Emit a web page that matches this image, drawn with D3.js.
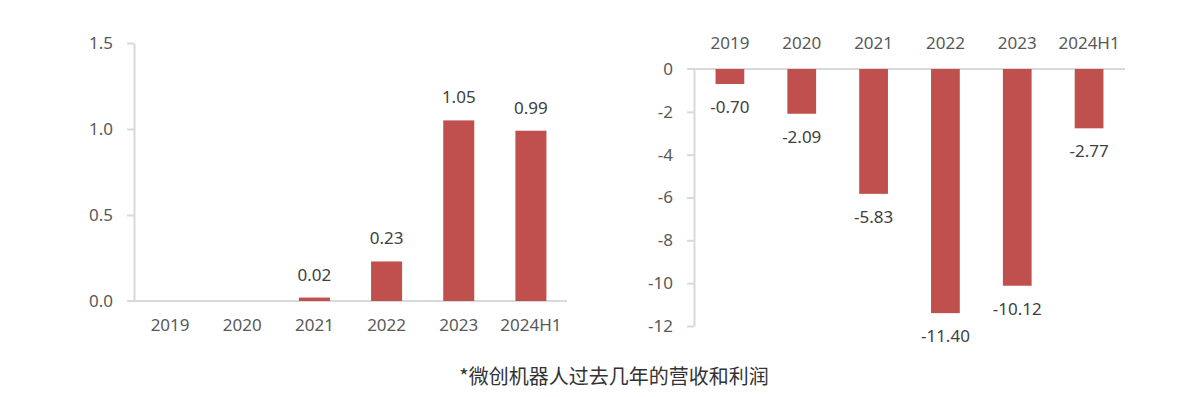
<!DOCTYPE html>
<html lang="zh">

<head>
  <meta charset="UTF-8">
  <title>微创机器人 营收和利润</title>
  <script src="https://cdn.jsdelivr.net/npm/d3@7/dist/d3.min.js"></script>
  <style>
    body { margin: 0; background: #fff; }
    text { font-family: "Noto Sans", "Noto Sans CJK SC", sans-serif; }
  </style>
</head>

<body>
  <svg width="1193" height="397"></svg>
  <script>
    var years = ['2019', '2020', '2021', '2022', '2023', '2024H1']
    var revenue = [0, 0, 0.02, 0.23, 1.05, 0.99]
    var profit = [-0.70, -2.09, -5.83, -11.40, -10.12, -2.77]
    var revTicks = [0, 0.5, 1.0, 1.5]
    var profitTicks = [0, -2, -4, -6, -8, -10, -12]
    var caption = '*微创机器人过去几年的营收和利润'

    var barColor = '#c0504d'
    var axisColor = '#d9d9d9'
    var tickColor = '#595959'
    var labelColor = '#404040'

    // plain hyphen for negatives, like the original
    var fmt2 = d3.formatLocale({ decimal: '.', thousands: ',', grouping: [3], currency: ['', ''], minus: '-' }).format('.2f')

    var svg = d3.select('svg')

    function styleAxis(g) {
      g.select('.domain').attr('stroke', axisColor).attr('stroke-width', 2)
      g.selectAll('.tick line').attr('stroke', axisColor).attr('stroke-width', 2)
      g.selectAll('.tick text').attr('fill', tickColor).style('font-size', '17px')
    }

    // ---- left: revenue ----
    var x1 = d3.scaleBand().domain(years).range([134, 567])
      .paddingInner(0.57).paddingOuter(0.285)
    var y1 = d3.scaleLinear().domain([0, 1.5]).range([301, 43])

    var left = svg.append('g')

    left.append('g')
      .attr('transform', 'translate(134,0)')
      .call(d3.axisLeft(y1).tickValues(revTicks).tickFormat(d3.format('.1f'))
        .tickSize(7).tickSizeOuter(0).tickPadding(14))
      .call(styleAxis)
      .call(g => g.selectAll('.tick').filter(d => d === 0).select('line').remove())

    left.append('line')
      .attr('x1', 127).attr('x2', x1.range()[1])
      .attr('y1', y1(0)).attr('y2', y1(0))
      .attr('stroke', axisColor).attr('stroke-width', 2)

    left.selectAll('.xl')
      .data(years)
      .enter()
      .append('text')
      .attr('x', d => x1(d) + x1.bandwidth() / 2)
      .attr('y', 325)
      .attr('dy', '0.35em')
      .attr('text-anchor', 'middle')
      .attr('fill', tickColor)
      .style('font-size', '17px')
      .text(d => d)

    var revData = years.map((d, i) => ({ year: d, v: revenue[i] })).filter(d => d.v > 0)

    left.selectAll('.bar')
      .data(revData)
      .enter()
      .append('rect')
      .attr('x', d => x1(d.year))
      .attr('width', x1.bandwidth())
      .attr('y', d => y1(d.v))
      .attr('height', d => y1(0) - y1(d.v))
      .attr('fill', barColor)

    left.selectAll('.val')
      .data(revData)
      .enter()
      .append('text')
      .attr('x', d => x1(d.year) + x1.bandwidth() / 2)
      .attr('y', d => y1(d.v) - 23)
      .attr('dy', '0.35em')
      .attr('text-anchor', 'middle')
      .attr('fill', labelColor)
      .style('font-size', '17px')
      .text(d => fmt2(d.v))

    // ---- right: profit ----
    var x2 = d3.scaleBand().domain(years).range([694, 1125])
      .paddingInner(0.6).paddingOuter(0.3)
    var y2 = d3.scaleLinear().domain([-12, 0]).range([326, 69])

    var right = svg.append('g')

    right.append('g')
      .attr('transform', 'translate(694,0)')
      .call(d3.axisLeft(y2).tickValues(profitTicks).tickFormat(d => String(d))
        .tickSize(7).tickSizeOuter(0).tickPadding(14))
      .call(styleAxis)
      .call(g => g.selectAll('.tick').filter(d => d === 0).select('line').remove())

    right.append('line')
      .attr('x1', 687).attr('x2', x2.range()[1])
      .attr('y1', y2(0)).attr('y2', y2(0))
      .attr('stroke', axisColor).attr('stroke-width', 2)

    right.selectAll('.xl')
      .data(years)
      .enter()
      .append('text')
      .attr('x', d => x2(d) + x2.bandwidth() / 2)
      .attr('y', 43)
      .attr('dy', '0.35em')
      .attr('text-anchor', 'middle')
      .attr('fill', tickColor)
      .style('font-size', '17px')
      .text(d => d)

    var profData = years.map((d, i) => ({ year: d, v: profit[i] }))

    right.selectAll('.bar')
      .data(profData)
      .enter()
      .append('rect')
      .attr('x', d => x2(d.year))
      .attr('width', x2.bandwidth())
      .attr('y', y2(0))
      .attr('height', d => y2(d.v) - y2(0))
      .attr('fill', barColor)

    right.selectAll('.val')
      .data(profData)
      .enter()
      .append('text')
      .attr('x', d => x2(d.year) + x2.bandwidth() / 2)
      .attr('y', d => y2(d.v) + 23)
      .attr('dy', '0.35em')
      .attr('text-anchor', 'middle')
      .attr('fill', labelColor)
      .style('font-size', '17px')
      .text(d => fmt2(d.v))

    // caption
    svg.append('text')
      .attr('x', 614)
      .attr('y', 377)
      .attr('dy', '0.35em')
      .attr('text-anchor', 'middle')
      .attr('fill', '#333')
      .style('font-family', '"Noto Sans CJK SC", sans-serif')
      .style('font-size', '20px')
      .text(caption)
  </script>
</body>

</html>
